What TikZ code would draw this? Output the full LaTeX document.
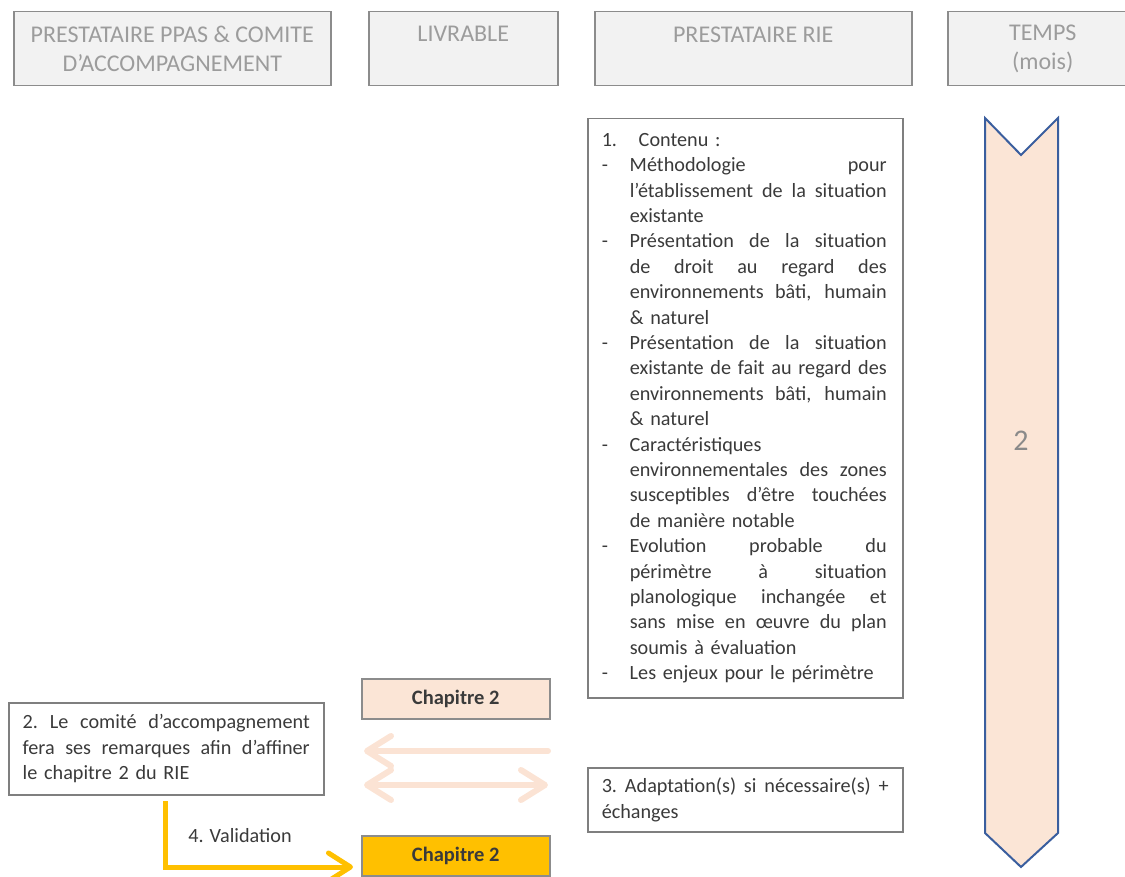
\documentclass[tikz,border=0pt]{standalone}
\usepackage{fontspec}
\setmainfont{Carlito}
\usetikzlibrary{arrows.meta}
\definecolor{hdrfill}{HTML}{F2F2F2}
\definecolor{hdrline}{HTML}{8C8C8C}
\definecolor{hdrtext}{HTML}{9C9C9C}
\definecolor{boxline}{HTML}{7F7F7F}
\definecolor{peach}{HTML}{FBE5D6}
\definecolor{peacharr}{HTML}{FBE3D4}
\definecolor{gold}{HTML}{FFC000}
\definecolor{txt}{HTML}{3A3A3A}
\definecolor{chevline}{HTML}{3A5E9E}
\definecolor{numtext}{HTML}{8A8A8A}
\newcommand\jbox[2]{\makebox[#1][s]{\spaceskip=0.226em plus 1fill minus 2pt\xspaceskip=\spaceskip\relax #2}}
\newcommand\jdash[1]{\makebox[28pt][l]{-}\jbox{257pt}{#1}}
\newcommand\jind[1]{\hspace*{28pt}\jbox{257pt}{#1}}
\newcommand\ldash[1]{\makebox[28pt][l]{-}#1}
\newcommand\lind[1]{\hspace*{28pt}#1}
\begin{document}
\begin{tikzpicture}[x=1pt,y=-1pt,
  hdr/.style={draw=hdrline, fill=hdrfill, line width=1.5pt, text=hdrtext,
    font=\fontsize{24}{29}\selectfont, align=center, anchor=north west,
    inner sep=0pt, minimum height=74pt},
  tbox/.style={draw=boxline, line width=1.5pt, text=txt, anchor=north west,
    font=\fontsize{20.2}{25.4}\selectfont, align=left, inner xsep=14pt, inner ysep=0pt,
    minimum width=315pt, text width=287pt},
  chapbox/.style={draw=hdrline, line width=1.5pt, text=txt, anchor=north west,
    font=\fontsize{20.5}{24}\selectfont\bfseries, minimum width=188pt, minimum height=40pt, inner sep=0pt},
  peachline/.style={draw=peacharr, line width=6pt, line cap=round},
  goldline/.style={draw=gold, line width=5pt},
  chevstyle/.style={draw=chevline, fill=peach, line width=2pt, line join=miter}
]
\useasboundingbox (0,0) rectangle (1125,877);

% headers
\node[hdr, minimum width=317pt] (h1) at (13,11) {PRESTATAIRE PPAS \& COMITE\\D’ACCOMPAGNEMENT};
\node[hdr, minimum width=189pt] (h2) at (368,11) {LIVRABLE\\\phantom{X}};
\node[hdr, minimum width=317pt] (h3) at (594,11) {PRESTATAIRE RIE\\\phantom{X}};
\node[hdr, minimum width=190pt] (h4) at (947,11) {TEMPS\\(mois)};

% time chevron
\draw[chevstyle] (985,118) -- (1021,155) -- (1058,118) -- (1058,833) -- (1021,867) -- (985,833) -- cycle;
\node[text=numtext, font=\fontsize{30}{36}\selectfont] (t2) at (1021,441) {2};

% content box
\node[tbox, minimum height=579pt] (c) at (587,118) {%
\makebox[37pt][l]{1.}Contenu :\\
\jdash{Méthodologie pour}\\
\jind{l’établissement de la situation}\\
\lind{existante}\\
\jdash{Présentation de la situation}\\
\jind{de droit au regard des}\\
\jind{environnements bâti, humain}\\
\lind{\& naturel}\\
\jdash{Présentation de la situation}\\
\jind{existante de fait au regard des}\\
\jind{environnements bâti, humain}\\
\lind{\& naturel}\\
\ldash{Caractéristiques}\\
\jind{environnementales des zones}\\
\jind{susceptibles d’être touchées}\\
\lind{de manière notable}\\
\jdash{Evolution probable du}\\
\jind{périmètre à situation}\\
\jind{planologique inchangée et}\\
\jind{sans mise en œuvre du plan}\\
\lind{soumis à évaluation}\\
\ldash{Les enjeux pour le périmètre}};

% comité box
\node[tbox, minimum height=92pt] (b2) at (8,702) {%
\jbox{287pt}{2. Le comité d’accompagnement}\\
\jbox{287pt}{fera ses remarques afin d’affiner}\\
le chapitre 2 du RIE};

% adaptation box
\node[tbox, minimum height=64pt] (b3) at (587,767) {%
\jbox{287pt}{3. Adaptation(s) si nécessaire(s) +}\\
échanges};

% chapitre boxes
\node[chapbox, fill=peach] (ch1) at (361,678) {Chapitre 2};
\node[chapbox, fill=gold] (ch2) at (361,835) {Chapitre 2};

% peach arrows
\coordinate (a1s) at (548,751);
\coordinate (a1e) at (364,751);
\coordinate (a2s) at (364,785);
\coordinate (a2e) at (548,785);
\draw[peachline, -{Straight Barb[length=24pt,width=30pt,round]}] (a1s) -- (a1e);
\draw[peachline, {Straight Barb[length=24pt,width=30pt,round]}-{Straight Barb[length=24pt,width=30pt,round]}] (a2s) -- (a2e);

% validation arrow
\coordinate (ys) at (165,801);
\coordinate (ye) at (353,867);
\draw[goldline, -{Straight Barb[length=22pt,width=28pt,round]}] (ys) |- (ye);
\node[text=txt, font=\fontsize{20.2}{25}\selectfont] (val) at (240,836) {4. Validation};
\end{tikzpicture}
\end{document}
